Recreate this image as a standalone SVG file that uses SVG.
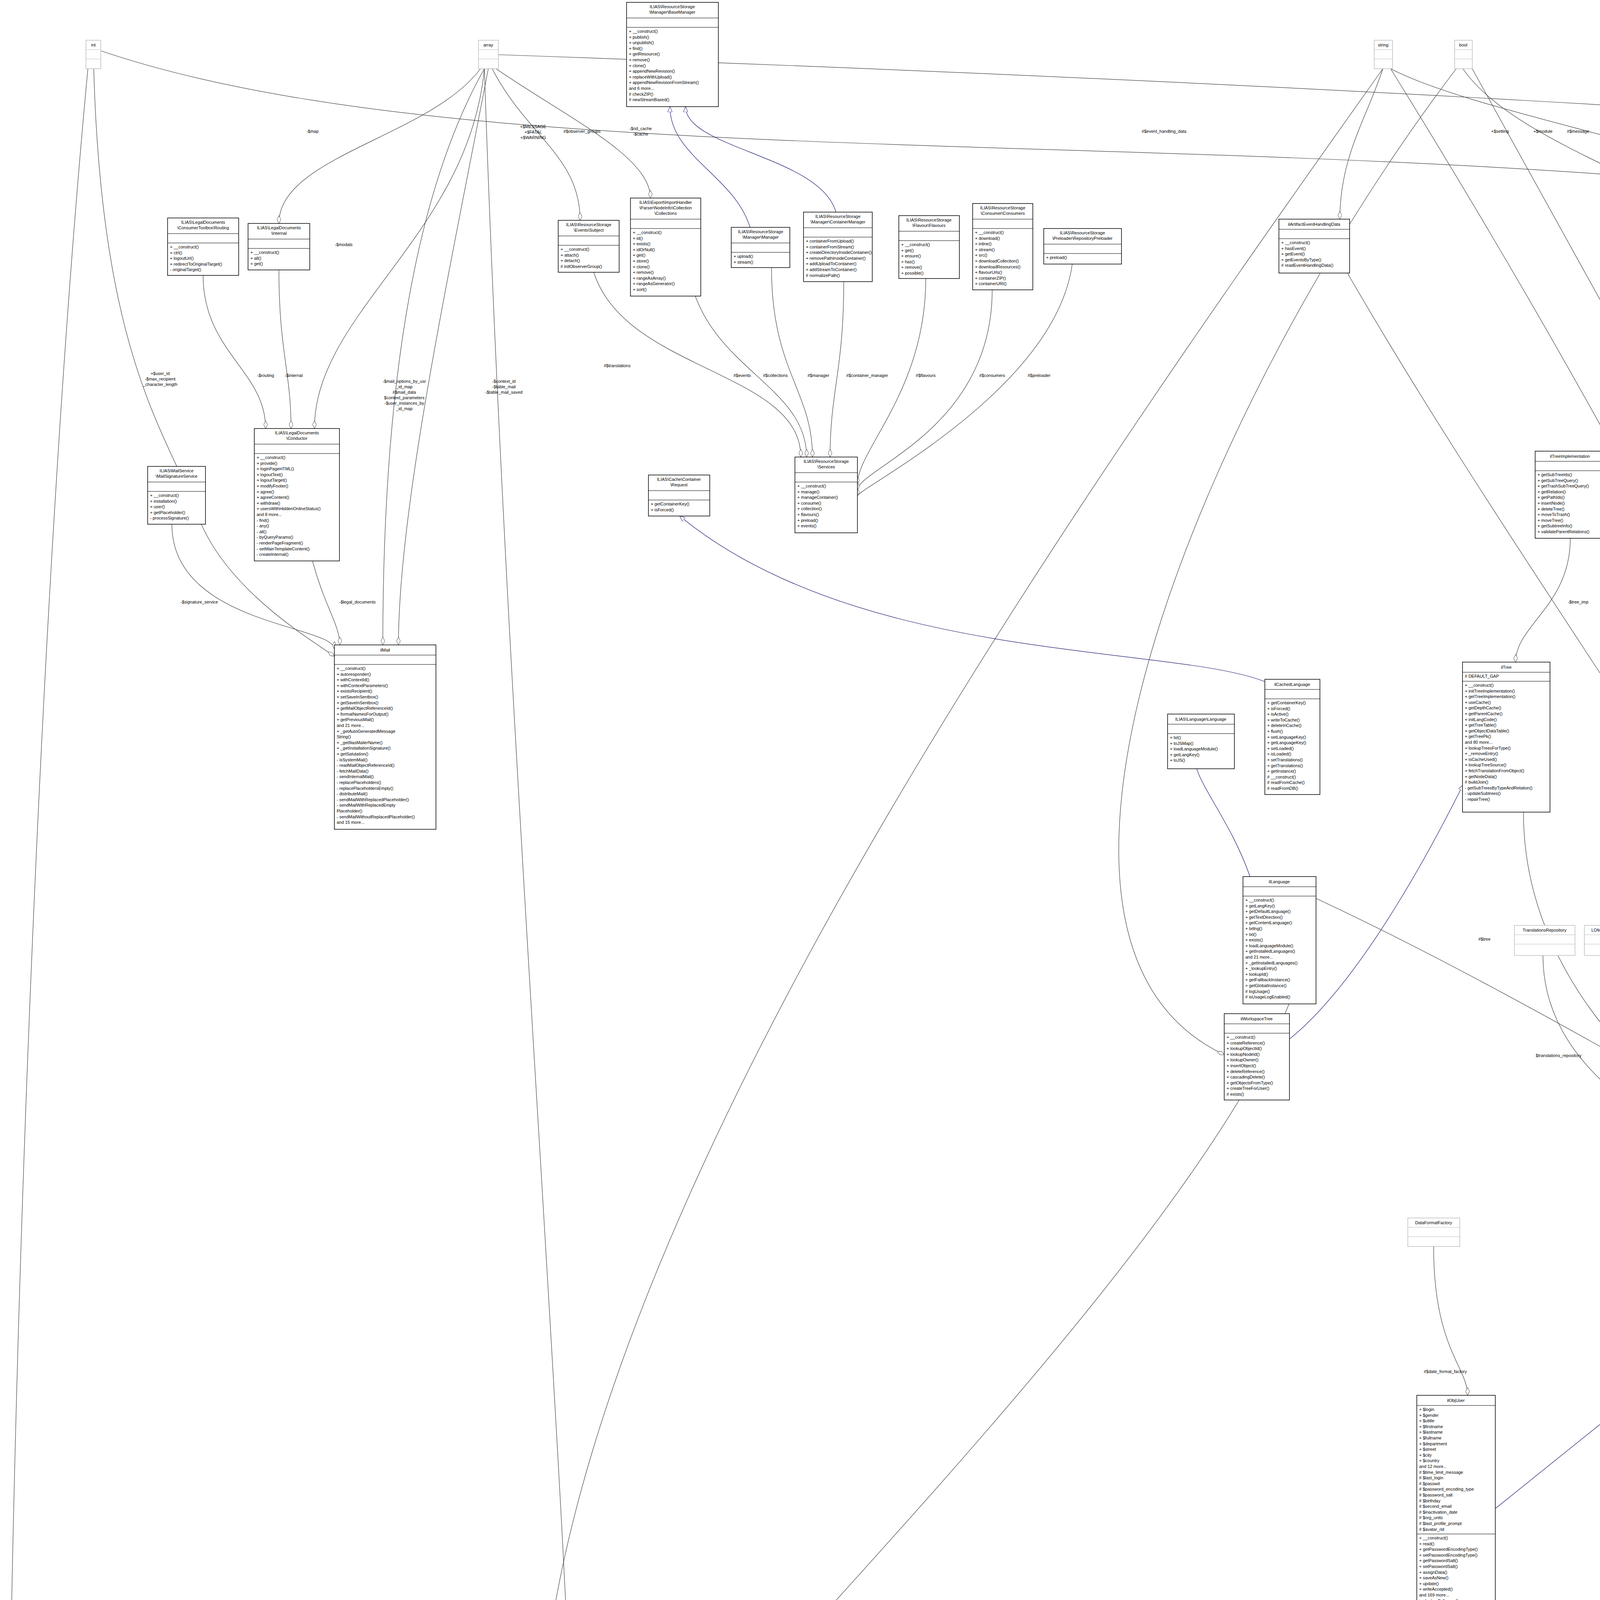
<svg xmlns="http://www.w3.org/2000/svg" width="7594" height="5797" viewBox="0 0 7594 5797">
<style>
.n rect{fill:#fff;stroke:#000;stroke-width:1.5}
.n path{stroke:#000;stroke-width:1.2;fill:none}
.g rect{stroke:#bfbfbf}
.g path{stroke:#bfbfbf}
.f rect{fill:#bfbfbf}
text{font-family:"Liberation Sans",Arial,sans-serif;font-size:11px;fill:#000}
.ti{text-anchor:middle}
.e path{fill:none;stroke:#404040;stroke-width:1.2;marker-end:url(#dm)}
.e path.i{stroke:#191970;marker-end:url(#tr)}
.l text{text-anchor:middle}
</style>
<defs>
<marker id="dm" viewBox="0 0 20 10" refX="20" refY="5" markerWidth="20" markerHeight="10" orient="auto" markerUnits="userSpaceOnUse"><path d="M0,5 L10,0 L20,5 L10,10 Z" fill="#fff" stroke="#404040"/></marker>
<marker id="tr" viewBox="0 0 14 12" refX="14" refY="6" markerWidth="14" markerHeight="12" orient="auto" markerUnits="userSpaceOnUse"><path d="M0,0 L14,6 L0,12 Z" fill="#fff" stroke="#191970"/></marker>
</defs>
<rect width="7594" height="5797" fill="#fff"/>

<g class="e" id="edges">
<path d="M520,705 C520,900 680,950 680,1097"/>
<path d="M714,691 C714,900 745,950 745,1097"/>
<path d="M1240,176 C1200,600 805,800 805,1097"/>
<path d="M1230,176 C1100,350 714,400 714,572"/>
<path d="M1260,176 C1350,350 1485,400 1485,564"/>
<path d="M1270,176 C1450,300 1665,400 1665,507"/>
<path d="M1520,697 C1600,950 2050,950 2050,1170"/>
<path d="M1780,758 C1850,950 2065,1000 2065,1170"/>
<path d="M1975,685 C1975,950 2080,1000 2080,1170"/>
<path d="M2160,721 C2160,950 2125,1000 2125,1170"/>
<path d="M2370,713 C2370,1000 2195,1150 2195,1240"/>
<path d="M2540,742 C2540,1100 2195,1200 2195,1255"/>
<path d="M2745,676 C2700,1000 2195,1250 2195,1270"/>
<path d="M440,1342 C440,1600 856,1600 856,1662"/>
<path d="M800,1436 C830,1550 870,1600 870,1651"/>
<path d="M240,176 C260,900 420,1100 500,1300 C560,1500 800,1640 856,1680"/>
<path d="M1240,176 C1000,600 980,1300 980,1651"/>
<path d="M1250,176 C1150,700 1020,1300 1020,1651"/>
<path d="M225,176 C100,1500 30,3500 20,4800 C10,5400 200,5640 419,5660"/>
<path d="M3540,176 C3500,300 3430,400 3430,561"/>
<path d="M3745,176 C3900,400 4440,500 4440,680"/>
<path d="M3560,176 C3800,300 4470,400 4470,497"/>
<path d="M4745,176 C4745,300 4720,400 4720,476"/>
<path d="M4760,176 C4800,300 4780,400 4780,476"/>
<path d="M4510,766 C4600,1000 4905,1000 4905,1149"/>
<path d="M4700,788 C4800,1000 4940,1000 4940,1149"/>
<path d="M4020,1378 C4020,1550 3880,1600 3880,1695"/>
<path d="M5230,264 C5500,400 6010,350 6010,420"/>
<path d="M6110,852 C6110,1000 6040,1050 6040,1141"/>
<path d="M5380,758 C5380,1000 5320,1100 5320,1215"/>
<path d="M5600,676 C5600,1000 5420,1150 5420,1215"/>
<path d="M6600,758 C6700,1000 7152,1000 7152,1130"/>
<path d="M7370,667 C7370,900 7270,1000 7270,1112"/>
<path d="M6370,176 C6600,400 7235,800 7235,1112"/>
<path d="M6350,176 C6300,350 6390,500 6340,880"/>
<path d="M7000,248 C6900,380 6640,400 6640,507"/>
<path d="M7010,248 C7050,800 6903,1300 6903,1470"/>
<path d="M7030,248 C6900,600 6221,700 6221,760"/>
<path d="M1276,140 C3000,200 5000,300 6003,420"/>
<path d="M258,130 C1200,450 3000,320 4614,490"/>
<path d="M4290,2542 C4290,2700 4490,2750 4490,2844"/>
<path d="M4520,2468 C4520,2700 4520,2750 4520,2844"/>
<path d="M3950,2446 C3950,2800 4400,2950 4477,2990"/>
<path d="M4107,2446 C4107,2800 4400,2980 4477,3010"/>
<path d="M3670,3191 C3670,3450 3757,3500 3757,3572"/>
<path d="M3727,4336 L3727,4401"/>
<path d="M6000,4717 C6000,4850 5600,4900 5569,4950"/>
<path d="M5540,5152 C5560,5200 5620,5245 5654,5250"/>
<path d="M6435,4600 C6435,4750 6420,4850 6420,4922"/>
<path d="M6410,5042 C6380,5250 5950,5350 5852,5355"/>
<path d="M5654,5380 C4500,5450 1500,5650 623,5700"/>
<path d="M3620,4640 C2500,4700 1700,4750 1528,4870"/>
<path d="M4400,1439 C4400,2200 4570,2600 4570,2844"/>
<path d="M4900,1385 C4850,2200 4600,2600 4600,2844"/>
<path d="M5330,1319 C5200,2200 4705,2800 4705,2990"/>
<path d="M6000,1394 C5800,2300 4705,2900 4705,3000"/>
<path d="M3900,2079 C3900,2600 4400,2900 4477,2950"/>
<path d="M3369,2300 C3800,2500 4400,2850 4477,2900"/>
<path d="M4750,788 C5000,1500 4705,2700 4705,2860"/>
<path d="M5200,264 C5300,1500 4705,2700 4705,2850"/>
<path d="M3300,2570 C3000,3300 1600,4600 1528,4830"/>
<path d="M3540,176 C2600,1500 1200,3500 1400,4790"/>
<path d="M1240,176 C1300,2000 1470,4000 1470,4790"/>
<path d="M3450,700 C4200,2000 5500,3500 5400,4812"/>
<path d="M3560,176 C5000,2500 5400,4000 5440,4812"/>
<path d="M6324,150 C5800,1500 5700,4500 5700,5239"/>
<path d="M3728,176 C3100,1000 2500,2400 3134,2700"/>
<path d="M3769,176 C4500,1500 5900,4000 6000,4408"/>
<path d="M4769,176 C5600,1800 6050,4000 6050,4408"/>
<path d="M4972,1300 C6000,2500 5800,3800 5811,3850"/>
<path class="i" d="M1920,582 C1880,450 1715,400 1715,273"/>
<path class="i" d="M2140,543 C2100,400 1755,380 1755,273"/>
<path class="i" d="M3238,1745 C3000,1650 2200,1700 1740,1321"/>
<path class="i" d="M4470,497 C4420,400 4370,300 4370,236"/>
<path class="i" d="M3200,2244 C3150,2100 3060,2000 3060,1947"/>
<path class="i" d="M3301,2660 C3500,2500 3700,2100 3745,2010"/>
<path class="i" d="M5662,3900 L4705,3233"/>
<path class="i" d="M5936,4417 L5790,4107"/>
<path class="i" d="M6438,4526 L6438,3992"/>
<path class="i" d="M623,5625 L1341,5145"/>
<path class="i" d="M3828,3862 L4477,3340"/>
</g>

<g class="l" id="labels">
<text x="680" y="965">-$routing</text>
<text x="752" y="965">-$internal</text>
<text x="880" y="630">-$modals</text>
<text x="800" y="340">-$map</text>
<text x="1490" y="340">#$observer_groups</text>
<text x="1640" y="333">-$rid_cache</text><text x="1640" y="347">-$cache</text>
<text x="1900" y="965">#$events</text>
<text x="1985" y="965">#$collections</text>
<text x="2095" y="965">#$manager</text>
<text x="2220" y="965">#$container_manager</text>
<text x="2370" y="965">#$flavours</text>
<text x="2540" y="965">#$consumers</text>
<text x="2660" y="965">#$preloader</text>
<text x="510" y="1545">-$signature_service</text>
<text x="915" y="1545">-$legal_documents</text>
<text x="410" y="960">+$user_id</text><text x="410" y="974">-$max_recipient</text><text x="410" y="988">_character_length</text>
<text x="1035" y="980">-$mail_options_by_usr</text><text x="1035" y="994">_id_map</text><text x="1035" y="1008">#$mail_data</text><text x="1035" y="1022">$context_parameters</text><text x="1035" y="1036">-$user_instances_by</text><text x="1035" y="1050">_id_map</text>
<text x="1290" y="980">-$context_id</text><text x="1290" y="994">-$table_mail</text><text x="1290" y="1008">-$table_mail_saved</text>
<text x="1365" y="328">+$MESSAGE</text><text x="1365" y="342">+$FATAL</text><text x="1365" y="356">+$WARNING</text>
<text x="1580" y="940">#$translations</text>
<text x="23" y="4745">#$actor</text>
<text x="2980" y="340">#$event_handling_data</text>
<text x="3840" y="340">+$setting</text>
<text x="3950" y="340">+$module</text>
<text x="4040" y="340">#$message</text>
<text x="4180" y="340">#$cache_disabled</text>
<text x="4400" y="333">-$settings_cache</text><text x="4400" y="347">-$value_type</text>
<text x="4570" y="340">#$db</text>
<text x="4690" y="340">#$DEBUG_ENV</text>
<text x="4900" y="340">#$whoops_handlers_registered</text>
<text x="5155" y="340">#$whoops</text>
<text x="4930" y="970">#$setting</text>
<text x="4990" y="970">#$error</text>
<text x="4040" y="1545">-$tree_imp</text>
<text x="5480" y="340">-SENSITIVE_PARAMETER</text><text x="5480" y="354">_NAMES</text>
<text x="5790" y="340">+PLUGIN_BASE_PATH</text>
<text x="5920" y="340">#$db</text>
<text x="6155" y="305">+FILTER_NOT_INTERNAL</text><text x="6155" y="319">+FILTER_ALL_GLOBAL</text><text x="6155" y="333">+FILTER_ALL</text><text x="6155" y="347">+FILTER_INTERNAL</text><text x="6155" y="361">+FILTER_TEMPLATES</text><text x="6155" y="375">+FILTER_ALL_LOCAL</text>
<text x="6390" y="340">#$log</text>
<text x="6480" y="340">+TABLE_NAME</text>
<text x="6820" y="280">#$server_timezone</text><text x="6820" y="294">+$instances</text><text x="6820" y="308">#$current_timezone</text><text x="6820" y="322">#$default_timezone</text><text x="6820" y="336">+$valid_tz</text>
<text x="6760" y="340">+UTC</text>
<text x="6880" y="340">#$log</text>
<text x="6120" y="970">#$rbacreview</text>
<text x="5410" y="970">#$component_repository</text>
<text x="5600" y="970">#$component_factory</text>
<text x="5180" y="900">+TREE_TYPE_NESTED_SET</text><text x="5180" y="914">+RELATION_PARENT</text><text x="5180" y="928">+RELATION_CHILD</text><text x="5180" y="942">+TREE_TYPE_MATERIALIZED</text><text x="5180" y="956">_PATH</text><text x="5180" y="970">#DEFAULT_LANGUAGE</text><text x="5180" y="984">+RELATION_SIBLING</text><text x="5180" y="998">+POS_FIRST_NODE</text><text x="5180" y="1012">+RELATION_EQUALS</text><text x="5180" y="1026">+POS_LAST_NODE</text><text x="5180" y="1040">+RELATION_NONE</text>
<text x="7120" y="965">#$default_timezone</text><text x="7120" y="979">#$timezone</text>
<text x="7330" y="970">#$dt_obj</text>
<text x="7295" y="590">+SECOND</text><text x="7295" y="604">+MONTH</text><text x="7295" y="618">+YEAR</text><text x="7295" y="632">+HOUR</text><text x="7295" y="646">+MINUTE</text><text x="7295" y="660">+WEEK</text><text x="7295" y="674">+DAY</text>
<text x="7020" y="1265">#$log</text>
<text x="6560" y="1555">+TABLE_OBJECT_DATA</text><text x="6560" y="1569">+LONG_DESC_LENGTH</text><text x="6560" y="1583">+TITLE_LENGTH</text><text x="6560" y="1597">+DESC_LENGTH</text>
<text x="4659" y="2183">#$obj_definition</text>
<text x="4815" y="2183">#$ilias</text>
<text x="5190" y="2183">#$app_event_handler</text>
<text x="5390" y="2183">#$rbac_admin</text>
<text x="5800" y="2183">#$db</text>
<text x="3800" y="2408">#$tree</text>
<text x="4441" y="2706">#$object_properties</text>
<text x="4590" y="2706">#$properties_aggregator</text>
<text x="3990" y="2706">$translations_repository</text>
<text x="4240" y="2706">#$lom_services</text>
<text x="5280" y="2408">#$delivery</text>
<text x="5610" y="2408">#$settings</text>
<text x="6245" y="2408">#$db</text>
<text x="6390" y="2408">#$rbacreview</text>
<text x="6680" y="2408">+SUBJECT_TITLE_LENGTH</text>
<text x="6340" y="2706">#$db</text>
<text x="6610" y="2706">$notification_settings</text>
<text x="3700" y="3515">#$date_format_factory</text>
<text x="3770" y="4372">#$user</text>
<text x="3590" y="4530">#$user</text>
<text x="5960" y="4762">#$obj</text>
<text x="5605" y="5208">#$table</text>
<text x="6470" y="4758">#$DIC</text>
<text x="6360" y="5208">#$notes</text>
<text x="2690" y="5580">#$record</text>
<text x="1640" y="4757">#$wsp_access_handler</text>
<text x="1000" y="4765">#$mail</text>
</g>

<g id="n_int" class="n g"><rect x="220" y="103" width="38" height="73"/><path d="M220,127H258M220,151H258"/><text class="ti" x="239" y="119">int</text></g>
<g id="n_array" class="n g"><rect x="1225" y="103" width="51" height="73"/><path d="M1225,127H1276M1225,151H1276"/><text class="ti" x="1250" y="119">array</text></g>
<g id="n_string" class="n g"><rect x="3518" y="103" width="47" height="73"/><path d="M3518,127H3565M3518,151H3565"/><text class="ti" x="3541" y="119">string</text></g>
<g id="n_bool" class="n g"><rect x="3724" y="103" width="45" height="73"/><path d="M3724,127H3769M3724,151H3769"/><text class="ti" x="3746" y="119">bool</text></g>
<g id="n_static" class="n g"><rect x="4720" y="103" width="49" height="73"/><path d="M4720,127H4769M4720,151H4769"/><text class="ti" x="4744" y="119">static</text></g>
<g id="n_run" class="n g"><rect x="4913" y="103" width="96" height="73"/><path d="M4913,127H5009M4913,151H5009"/><text class="ti" x="4961" y="119">RunInterface</text></g>
<g id="n_const" class="n g"><rect x="6324" y="103" width="57" height="73"/><path d="M6324,127H6381M6324,151H6381"/><text class="ti" x="6352" y="119">const</text></g>
<g id="n_datetime" class="n g"><rect x="7334" y="594" width="76" height="73"/><path d="M7334,618H7410M7334,642H7410"/><text class="ti" x="7372" y="610">DateTime</text></g>
<g id="n_dff" class="n g"><rect x="3604" y="3118" width="133" height="73"/><path d="M3604,3142H3737M3604,3166H3737"/><text class="ti" x="3670" y="3134">DataFormatFactory</text></g>
<g id="n_tr" class="n g"><rect x="3877" y="2369" width="155" height="77"/><path d="M3877,2393H4032M3877,2417H4032"/><text class="ti" x="3954" y="2385">TranslationsRepository</text></g>
<g id="n_lom" class="n g"><rect x="4056" y="2369" width="102" height="77"/><path d="M4056,2393H4158M4056,2417H4158"/><text class="ti" x="4107" y="2385">LOMServices</text></g>

<g id="n_basemanager" class="n"><rect x="1604" y="6" width="235" height="267"/><path d="M1604,46H1839M1604,70H1839"/><text class="ti" x="1721" y="21">ILIAS\ResourceStorage</text><text class="ti" x="1721" y="35">\Manager\BaseManager</text><text x="1610" y="84"><tspan x="1610" dy="0">+ __construct()</tspan><tspan x="1610" dy="14.6">+ publish()</tspan><tspan x="1610" dy="14.6">+ unpublish()</tspan><tspan x="1610" dy="14.6">+ find()</tspan><tspan x="1610" dy="14.6">+ getResource()</tspan><tspan x="1610" dy="14.6">+ remove()</tspan><tspan x="1610" dy="14.6">+ clone()</tspan><tspan x="1610" dy="14.6">+ appendNewRevision()</tspan><tspan x="1610" dy="14.6">+ replaceWithUpload()</tspan><tspan x="1610" dy="14.6">+ appendNewRevisionFromStream()</tspan><tspan x="1610" dy="14.6">and 6 more...</tspan><tspan x="1610" dy="14.6"># checkZIP()</tspan><tspan x="1610" dy="14.6"># newStreamBased()</tspan></text></g>

<g id="n_routing" class="n"><rect x="429" y="558" width="182" height="147"/><path d="M429,598H611M429,622H611"/><text class="ti" x="520" y="573">ILIAS\LegalDocuments</text><text class="ti" x="520" y="587">\ConsumerToolbox\Routing</text><text x="435" y="636"><tspan x="435" dy="0">+ __construct()</tspan><tspan x="435" dy="14.6">+ ctrl()</tspan><tspan x="435" dy="14.6">+ logoutUrl()</tspan><tspan x="435" dy="14.6">+ redirectToOriginalTarget()</tspan><tspan x="435" dy="14.6">- originalTarget()</tspan></text></g>

<g id="n_internal" class="n"><rect x="635" y="572" width="158" height="119"/><path d="M635,612H793M635,636H793"/><text class="ti" x="714" y="587">ILIAS\LegalDocuments</text><text class="ti" x="714" y="601">\Internal</text><text x="641" y="650"><tspan x="641" dy="0">+ __construct()</tspan><tspan x="641" dy="14.6">+ all()</tspan><tspan x="641" dy="14.6">+ get()</tspan></text></g>

<g id="n_subject" class="n"><rect x="1429" y="564" width="156" height="133"/><path d="M1429,604H1585M1429,628H1585"/><text class="ti" x="1507" y="579">ILIAS\ResourceStorage</text><text class="ti" x="1507" y="593">\Events\Subject</text><text x="1435" y="642"><tspan x="1435" dy="0">+ __construct()</tspan><tspan x="1435" dy="14.6">+ attach()</tspan><tspan x="1435" dy="14.6">+ detach()</tspan><tspan x="1435" dy="14.6"># initObserverGroup()</tspan></text></g>

<g id="n_collections" class="n"><rect x="1614" y="507" width="180" height="251"/><path d="M1614,561H1794M1614,585H1794"/><text class="ti" x="1704" y="522">ILIAS\Export\ImportHandler</text><text class="ti" x="1704" y="536">\Parser\NodeInfo\Collection</text><text class="ti" x="1704" y="550">\Collections</text><text x="1620" y="599"><tspan x="1620" dy="0">+ __construct()</tspan><tspan x="1620" dy="14.6">+ id()</tspan><tspan x="1620" dy="14.6">+ exists()</tspan><tspan x="1620" dy="14.6">+ idOrNull()</tspan><tspan x="1620" dy="14.6">+ get()</tspan><tspan x="1620" dy="14.6">+ store()</tspan><tspan x="1620" dy="14.6">+ clone()</tspan><tspan x="1620" dy="14.6">+ remove()</tspan><tspan x="1620" dy="14.6">+ rangeAsArray()</tspan><tspan x="1620" dy="14.6">+ rangeAsGenerator()</tspan><tspan x="1620" dy="14.6">+ sort()</tspan></text></g>

<g id="n_manager" class="n"><rect x="1872" y="582" width="150" height="103"/><path d="M1872,622H2022M1872,646H2022"/><text class="ti" x="1947" y="597">ILIAS\ResourceStorage</text><text class="ti" x="1947" y="611">\Manager\Manager</text><text x="1878" y="660"><tspan x="1878" dy="0">+ upload()</tspan><tspan x="1878" dy="14.6">+ stream()</tspan></text></g>

<g id="n_containermanager" class="n"><rect x="2057" y="543" width="176" height="178"/><path d="M2057,583H2233M2057,607H2233"/><text class="ti" x="2145" y="558">ILIAS\ResourceStorage</text><text class="ti" x="2145" y="572">\Manager\ContainerManager</text><text x="2063" y="621"><tspan x="2063" dy="0">+ containerFromUpload()</tspan><tspan x="2063" dy="14.6">+ containerFromStream()</tspan><tspan x="2063" dy="14.6">+ createDirectoryInsideContainer()</tspan><tspan x="2063" dy="14.6">+ removePathInsideContainer()</tspan><tspan x="2063" dy="14.6">+ addUploadToContainer()</tspan><tspan x="2063" dy="14.6">+ addStreamToContainer()</tspan><tspan x="2063" dy="14.6"># normalizePath()</tspan></text></g>

<g id="n_flavours" class="n"><rect x="2301" y="552" width="155" height="161"/><path d="M2301,592H2456M2301,616H2456"/><text class="ti" x="2378" y="567">ILIAS\ResourceStorage</text><text class="ti" x="2378" y="581">\Flavour\Flavours</text><text x="2307" y="630"><tspan x="2307" dy="0">+ __construct()</tspan><tspan x="2307" dy="14.6">+ get()</tspan><tspan x="2307" dy="14.6">+ ensure()</tspan><tspan x="2307" dy="14.6">+ has()</tspan><tspan x="2307" dy="14.6">+ remove()</tspan><tspan x="2307" dy="14.6">+ possible()</tspan></text></g>

<g id="n_consumers" class="n"><rect x="2490" y="521" width="154" height="221"/><path d="M2490,561H2644M2490,585H2644"/><text class="ti" x="2567" y="536">ILIAS\ResourceStorage</text><text class="ti" x="2567" y="550">\Consumer\Consumers</text><text x="2496" y="599"><tspan x="2496" dy="0">+ __construct()</tspan><tspan x="2496" dy="14.6">+ download()</tspan><tspan x="2496" dy="14.6">+ inline()</tspan><tspan x="2496" dy="14.6">+ stream()</tspan><tspan x="2496" dy="14.6">+ src()</tspan><tspan x="2496" dy="14.6">+ downloadCollection()</tspan><tspan x="2496" dy="14.6">+ downloadResources()</tspan><tspan x="2496" dy="14.6">+ flavourUrls()</tspan><tspan x="2496" dy="14.6">+ containerZIP()</tspan><tspan x="2496" dy="14.6">+ containerURI()</tspan></text></g>

<g id="n_preloader" class="n"><rect x="2672" y="585" width="199" height="91"/><path d="M2672,625H2871M2672,649H2871"/><text class="ti" x="2771" y="600">ILIAS\ResourceStorage</text><text class="ti" x="2771" y="614">\Preloader\RepositoryPreloader</text><text x="2678" y="663">+ preload()</text></g>

<g id="n_conductor" class="n"><rect x="651" y="1097" width="218" height="339"/><path d="M651,1137H869M651,1161H869"/><text class="ti" x="760" y="1112">ILIAS\LegalDocuments</text><text class="ti" x="760" y="1126">\Conductor</text><text x="657" y="1175"><tspan x="657" dy="0">+ __construct()</tspan><tspan x="657" dy="14.6">+ provide()</tspan><tspan x="657" dy="14.6">+ loginPageHTML()</tspan><tspan x="657" dy="14.6">+ logoutText()</tspan><tspan x="657" dy="14.6">+ logoutTarget()</tspan><tspan x="657" dy="14.6">+ modifyFooter()</tspan><tspan x="657" dy="14.6">+ agree()</tspan><tspan x="657" dy="14.6">+ agreeContent()</tspan><tspan x="657" dy="14.6">+ withdraw()</tspan><tspan x="657" dy="14.6">+ usersWithHiddenOnlineStatus()</tspan><tspan x="657" dy="14.6">and 8 more...</tspan><tspan x="657" dy="14.6">- find()</tspan><tspan x="657" dy="14.6">- any()</tspan><tspan x="657" dy="14.6">- all()</tspan><tspan x="657" dy="14.6">- byQueryParams()</tspan><tspan x="657" dy="14.6">- renderPageFragment()</tspan><tspan x="657" dy="14.6">- setMainTemplateContent()</tspan><tspan x="657" dy="14.6">- createInternal()</tspan></text></g>

<g id="n_mailsig" class="n"><rect x="378" y="1194" width="148" height="148"/><path d="M378,1234H526M378,1258H526"/><text class="ti" x="452" y="1209">ILIAS\MailService</text><text class="ti" x="452" y="1223">\MailSignatureService</text><text x="384" y="1272"><tspan x="384" dy="0">+ __construct()</tspan><tspan x="384" dy="14.6">+ installation()</tspan><tspan x="384" dy="14.6">+ user()</tspan><tspan x="384" dy="14.6">+ getPlaceholder()</tspan><tspan x="384" dy="14.6">- processSignature()</tspan></text></g>

<g id="n_services" class="n"><rect x="2035" y="1170" width="160" height="194"/><path d="M2035,1210H2195M2035,1234H2195"/><text class="ti" x="2115" y="1185">ILIAS\ResourceStorage</text><text class="ti" x="2115" y="1199">\Services</text><text x="2041" y="1248"><tspan x="2041" dy="0">+ __construct()</tspan><tspan x="2041" dy="14.6">+ manage()</tspan><tspan x="2041" dy="14.6">+ manageContainer()</tspan><tspan x="2041" dy="14.6">+ consume()</tspan><tspan x="2041" dy="14.6">+ collection()</tspan><tspan x="2041" dy="14.6">+ flavours()</tspan><tspan x="2041" dy="14.6">+ preload()</tspan><tspan x="2041" dy="14.6">+ events()</tspan></text></g>

<g id="n_request" class="n"><rect x="1660" y="1216" width="157" height="105"/><path d="M1660,1256H1817M1660,1280H1817"/><text class="ti" x="1738" y="1231">ILIAS\Cache\Container</text><text class="ti" x="1738" y="1245">\Request</text><text x="1666" y="1294"><tspan x="1666" dy="0">+ getContainerKey()</tspan><tspan x="1666" dy="14.6">+ isForced()</tspan></text></g>

<g id="n_ilmail" class="n"><rect x="856" y="1651" width="260" height="472"/><path d="M856,1677H1116M856,1701H1116"/><text class="ti" x="986" y="1668">ilMail</text><text x="862" y="1715"><tspan x="862" dy="0">+ __construct()</tspan><tspan x="862" dy="14.6">+ autoresponder()</tspan><tspan x="862" dy="14.6">+ withContextId()</tspan><tspan x="862" dy="14.6">+ withContextParameters()</tspan><tspan x="862" dy="14.6">+ existsRecipient()</tspan><tspan x="862" dy="14.6">+ setSaveInSentbox()</tspan><tspan x="862" dy="14.6">+ getSaveInSentbox()</tspan><tspan x="862" dy="14.6">+ getMailObjectReferenceId()</tspan><tspan x="862" dy="14.6">+ formatNamesForOutput()</tspan><tspan x="862" dy="14.6">+ getPreviousMail()</tspan><tspan x="862" dy="14.6">and 21 more...</tspan><tspan x="862" dy="14.6">+ _getAutoGeneratedMessage</tspan><tspan x="862" dy="14.6">String()</tspan><tspan x="862" dy="14.6">+ _getIliasMailerName()</tspan><tspan x="862" dy="14.6">+ _getInstallationSignature()</tspan><tspan x="862" dy="14.6">+ getSalutation()</tspan><tspan x="862" dy="14.6">- isSystemMail()</tspan><tspan x="862" dy="14.6">- readMailObjectReferenceId()</tspan><tspan x="862" dy="14.6">- fetchMailData()</tspan><tspan x="862" dy="14.6">- sendInternalMail()</tspan><tspan x="862" dy="14.6">- replacePlaceholders()</tspan><tspan x="862" dy="14.6">- replacePlaceholdersEmpty()</tspan><tspan x="862" dy="14.6">- distributeMail()</tspan><tspan x="862" dy="14.6">- sendMailWithReplacedPlaceholder()</tspan><tspan x="862" dy="14.6">- sendMailWithReplacedEmpty</tspan><tspan x="862" dy="14.6">Placeholder()</tspan><tspan x="862" dy="14.6">- sendMailWithoutReplacedPlaceholder()</tspan><tspan x="862" dy="14.6">and 15 more...</tspan></text></g>

<g id="n_artifact" class="n"><rect x="3274" y="561" width="181" height="138"/><path d="M3274,587H3455M3274,611H3455"/><text class="ti" x="3364" y="578">ilArtifactEventHandlingData</text><text x="3280" y="625"><tspan x="3280" dy="0">+ __construct()</tspan><tspan x="3280" dy="14.6">+ hasEvent()</tspan><tspan x="3280" dy="14.6">+ getEvent()</tspan><tspan x="3280" dy="14.6">+ getEventsByType()</tspan><tspan x="3280" dy="14.6"># readEventHandlingData()</tspan></text></g>

<g id="n_adminsetting" class="n"><rect x="4301" y="42" width="141" height="194"/><path d="M4301,82H4442M4301,106H4442"/><text class="ti" x="4371" y="57">ILIAS\Administration</text><text class="ti" x="4371" y="71">\Setting</text><text x="4307" y="120"><tspan x="4307" dy="0">+ getModule()</tspan><tspan x="4307" dy="14.6">+ read()</tspan><tspan x="4307" dy="14.6">+ get()</tspan><tspan x="4307" dy="14.6">+ deleteAll()</tspan><tspan x="4307" dy="14.6">+ delete()</tspan><tspan x="4307" dy="14.6">+ getAll()</tspan><tspan x="4307" dy="14.6">+ set()</tspan><tspan x="4307" dy="14.6">+ _lookupValue()</tspan></text></g>

<g id="n_ilsetting" class="n"><rect x="4434" y="497" width="156" height="269"/><path d="M4434,523H4590M4434,547H4590"/><text class="ti" x="4512" y="514">ilSetting</text><text x="4440" y="561"><tspan x="4440" dy="0">+ __construct()</tspan><tspan x="4440" dy="14.6">+ getModule()</tspan><tspan x="4440" dy="14.6">+ read()</tspan><tspan x="4440" dy="14.6">+ get()</tspan><tspan x="4440" dy="14.6">+ deleteAll()</tspan><tspan x="4440" dy="14.6">+ deleteLike()</tspan><tspan x="4440" dy="14.6">+ delete()</tspan><tspan x="4440" dy="14.6">+ getAll()</tspan><tspan x="4440" dy="14.6">+ set()</tspan><tspan x="4440" dy="14.6">+ setScormDebug()</tspan><tspan x="4440" dy="14.6">+ _lookupValue()</tspan><tspan x="4440" dy="14.6">+ _getValueType()</tspan><tspan x="4440" dy="14.6">+ _changeValueType()</tspan><tspan x="4440" dy="14.6">+ _getLongerSettings()</tspan></text></g>

<g id="n_errorhandling" class="n"><rect x="4614" y="476" width="204" height="312"/><path d="M4614,502H4818M4614,526H4818"/><text class="ti" x="4716" y="493">ilErrorHandling</text><text x="4620" y="540"><tspan x="4620" dy="0">+ __construct()</tspan><tspan x="4620" dy="14.6">+ getHandler()</tspan><tspan x="4620" dy="14.6">+ raiseError()</tspan><tspan x="4620" dy="14.6">+ getMessage()</tspan><tspan x="4620" dy="14.6">+ setMessage()</tspan><tspan x="4620" dy="14.6">+ appendMessage()</tspan><tspan x="4620" dy="14.6">+ handlePreWhoops()</tspan><tspan x="4620" dy="14.6"># initWhoopsHandlers()</tspan><tspan x="4620" dy="14.6"># getIlRuntime()</tspan><tspan x="4620" dy="14.6"># getWhoops()</tspan><tspan x="4620" dy="14.6"># isDevmodeActive()</tspan><tspan x="4620" dy="14.6"># defaultHandler()</tspan><tspan x="4620" dy="14.6"># devmodeHandler()</tspan><tspan x="4620" dy="14.6"># addEditorSupport()</tspan><tspan x="4620" dy="14.6"># applyEditorPathTranslations()</tspan><tspan x="4620" dy="14.6"># parseEditorPathTranslation()</tspan><tspan x="4620" dy="14.6">- errorHandler()</tspan></text></g>

<g id="n_objdef" class="n"><rect x="4284" y="1097" width="219" height="342"/><path d="M4284,1123H4503M4284,1147H4503"/><text class="ti" x="4393" y="1114">ilObjectDefinition</text><text x="4290" y="1161"><tspan x="4290" dy="0">+ __construct()</tspan><tspan x="4290" dy="14.6">+ readDefinitionData()</tspan><tspan x="4290" dy="14.6">+ getClassName()</tspan><tspan x="4290" dy="14.6">+ getLocation()</tspan><tspan x="4290" dy="14.6">+ getGroup()</tspan><tspan x="4290" dy="14.6">+ getGroupOfObj()</tspan><tspan x="4290" dy="14.6">+ hasCheckbox()</tspan><tspan x="4290" dy="14.6">+ getTranslationType()</tspan><tspan x="4290" dy="14.6">+ stopInheritance()</tspan><tspan x="4290" dy="14.6">+ getDevMode()</tspan><tspan x="4290" dy="14.6">and 38 more...</tspan><tspan x="4290" dy="14.6">+ getRepositoryObjectTypes</tspan><tspan x="4290" dy="14.6">ForComponent()</tspan><tspan x="4290" dy="14.6">+ getComponentForType()</tspan><tspan x="4290" dy="14.6">+ getGroupedRepositoryObject</tspan><tspan x="4290" dy="14.6">Types()</tspan><tspan x="4290" dy="14.6"># readPluginData()</tspan><tspan x="4290" dy="14.6"># parsePluginData()</tspan><tspan x="4290" dy="14.6"># getGroupedPluginObjectTypes()</tspan></text></g>

<g id="n_treeimpl" class="n"><rect x="3930" y="1155" width="179" height="223"/><path d="M3930,1181H4109M3930,1205H4109"/><text class="ti" x="4019" y="1172">ilTreeImplementation</text><text x="3936" y="1219"><tspan x="3936" dy="0">+ getSubTreeIds()</tspan><tspan x="3936" dy="14.6">+ getSubTreeQuery()</tspan><tspan x="3936" dy="14.6">+ getTrashSubTreeQuery()</tspan><tspan x="3936" dy="14.6">+ getRelation()</tspan><tspan x="3936" dy="14.6">+ getPathIds()</tspan><tspan x="3936" dy="14.6">+ insertNode()</tspan><tspan x="3936" dy="14.6">+ deleteTree()</tspan><tspan x="3936" dy="14.6">+ moveToTrash()</tspan><tspan x="3936" dy="14.6">+ moveTree()</tspan><tspan x="3936" dy="14.6">+ getSubtreeInfo()</tspan><tspan x="3936" dy="14.6">+ validateParentRelations()</tspan></text></g>

<g id="n_ilias" class="n"><rect x="4833" y="1149" width="138" height="236"/><path d="M4833,1175H4971M4833,1256H4971"/><text class="ti" x="4902" y="1166">ILIAS</text><text x="4839" y="1189"><tspan x="4839" dy="0">+ $account</tspan><tspan x="4839" dy="14.6">+ $ini</tspan><tspan x="4839" dy="14.6">+ $ini_ilias</tspan><tspan x="4839" dy="14.6">+ $db</tspan><tspan x="4839" dy="14.6">+ $error_obj</tspan></text><text x="4839" y="1270"><tspan x="4839" dy="0">+ __construct()</tspan><tspan x="4839" dy="14.6">+ getSetting()</tspan><tspan x="4839" dy="14.6">+ deleteSetting()</tspan><tspan x="4839" dy="14.6">+ getAllSettings()</tspan><tspan x="4839" dy="14.6">+ setSetting()</tspan><tspan x="4839" dy="14.6">+ getClientId()</tspan><tspan x="4839" dy="14.6">+ raiseError()</tspan><tspan x="4839" dy="14.6"># getSettingObject()</tspan></text></g>

<g id="n_iltree" class="n"><rect x="3744" y="1695" width="224" height="384"/><path d="M3744,1721H3968M3744,1744H3968"/><text class="ti" x="3856" y="1712">ilTree</text><text x="3750" y="1735"># DEFAULT_GAP</text><text x="3750" y="1758"><tspan x="3750" dy="0">+ __construct()</tspan><tspan x="3750" dy="14.6">+ initTreeImplementation()</tspan><tspan x="3750" dy="14.6">+ getTreeImplementation()</tspan><tspan x="3750" dy="14.6">+ useCache()</tspan><tspan x="3750" dy="14.6">+ getDepthCache()</tspan><tspan x="3750" dy="14.6">+ getParentCache()</tspan><tspan x="3750" dy="14.6">+ initLangCode()</tspan><tspan x="3750" dy="14.6">+ getTreeTable()</tspan><tspan x="3750" dy="14.6">+ getObjectDataTable()</tspan><tspan x="3750" dy="14.6">+ getTreePk()</tspan><tspan x="3750" dy="14.6">and 80 more...</tspan><tspan x="3750" dy="14.6">+ lookupTreesForType()</tspan><tspan x="3750" dy="14.6">+ _removeEntry()</tspan><tspan x="3750" dy="14.6">+ isCacheUsed()</tspan><tspan x="3750" dy="14.6">+ lookupTreeSource()</tspan><tspan x="3750" dy="14.6">+ fetchTranslationFromObject()</tspan><tspan x="3750" dy="14.6">+ getNodeData()</tspan><tspan x="3750" dy="14.6"># buildJoin()</tspan><tspan x="3750" dy="14.6">- getSubTreesByTypeAndRelation()</tspan><tspan x="3750" dy="14.6">- updateSubtrees()</tspan><tspan x="3750" dy="14.6">- repairTree()</tspan></text></g>

<g id="n_cachedlang" class="n"><rect x="3238" y="1739" width="141" height="295"/><path d="M3238,1765H3379M3238,1789H3379"/><text class="ti" x="3308" y="1756">ilCachedLanguage</text><text x="3244" y="1803"><tspan x="3244" dy="0">+ getContainerKey()</tspan><tspan x="3244" dy="14.6">+ isForced()</tspan><tspan x="3244" dy="14.6">+ isActive()</tspan><tspan x="3244" dy="14.6">+ writeToCache()</tspan><tspan x="3244" dy="14.6">+ deleteInCache()</tspan><tspan x="3244" dy="14.6">+ flush()</tspan><tspan x="3244" dy="14.6">+ setLanguageKey()</tspan><tspan x="3244" dy="14.6">+ getLanguageKey()</tspan><tspan x="3244" dy="14.6">+ setLoaded()</tspan><tspan x="3244" dy="14.6">+ isLoaded()</tspan><tspan x="3244" dy="14.6">+ setTranslations()</tspan><tspan x="3244" dy="14.6">+ getTranslations()</tspan><tspan x="3244" dy="14.6">+ getInstance()</tspan><tspan x="3244" dy="14.6"># __construct()</tspan><tspan x="3244" dy="14.6"># readFromCache()</tspan><tspan x="3244" dy="14.6"># readFromDB()</tspan></text></g>

<g id="n_language" class="n"><rect x="2989" y="1828" width="171" height="140"/><path d="M2989,1854H3160M2989,1878H3160"/><text class="ti" x="3074" y="1845">ILIAS\Language\Language</text><text x="2995" y="1892"><tspan x="2995" dy="0">+ txt()</tspan><tspan x="2995" dy="14.6">+ toJSMap()</tspan><tspan x="2995" dy="14.6">+ loadLanguageModule()</tspan><tspan x="2995" dy="14.6">+ getLangKey()</tspan><tspan x="2995" dy="14.6">+ toJS()</tspan></text></g>

<g id="n_illanguage" class="n"><rect x="3182" y="2244" width="187" height="326"/><path d="M3182,2270H3369M3182,2294H3369"/><text class="ti" x="3275" y="2261">ilLanguage</text><text x="3188" y="2308"><tspan x="3188" dy="0">+ __construct()</tspan><tspan x="3188" dy="14.6">+ getLangKey()</tspan><tspan x="3188" dy="14.6">+ getDefaultLanguage()</tspan><tspan x="3188" dy="14.6">+ getTextDirection()</tspan><tspan x="3188" dy="14.6">+ getContentLanguage()</tspan><tspan x="3188" dy="14.6">+ txtlng()</tspan><tspan x="3188" dy="14.6">+ txt()</tspan><tspan x="3188" dy="14.6">+ exists()</tspan><tspan x="3188" dy="14.6">+ loadLanguageModule()</tspan><tspan x="3188" dy="14.6">+ getInstalledLanguages()</tspan><tspan x="3188" dy="14.6">and 21 more...</tspan><tspan x="3188" dy="14.6">+ _getInstalledLanguages()</tspan><tspan x="3188" dy="14.6">+ _lookupEntry()</tspan><tspan x="3188" dy="14.6">+ lookupId()</tspan><tspan x="3188" dy="14.6">+ getFallbackInstance()</tspan><tspan x="3188" dy="14.6">+ getGlobalInstance()</tspan><tspan x="3188" dy="14.6"># logUsage()</tspan><tspan x="3188" dy="14.6"># isUsageLogEnabled()</tspan></text></g>

<g id="n_wstree" class="n"><rect x="3134" y="2595" width="167" height="221"/><path d="M3134,2621H3301M3134,2645H3301"/><text class="ti" x="3217" y="2612">ilWorkspaceTree</text><text x="3140" y="2659"><tspan x="3140" dy="0">+ __construct()</tspan><tspan x="3140" dy="14.6">+ createReference()</tspan><tspan x="3140" dy="14.6">+ lookupObjectId()</tspan><tspan x="3140" dy="14.6">+ lookupNodeId()</tspan><tspan x="3140" dy="14.6">+ lookupOwner()</tspan><tspan x="3140" dy="14.6">+ insertObject()</tspan><tspan x="3140" dy="14.6">+ deleteReference()</tspan><tspan x="3140" dy="14.6">+ cascadingDelete()</tspan><tspan x="3140" dy="14.6">+ getObjectsFromType()</tspan><tspan x="3140" dy="14.6">+ createTreeForUser()</tspan><tspan x="3140" dy="14.6"># exists()</tspan></text></g>

<g id="n_objprops" class="n"><rect x="4182" y="2274" width="235" height="268"/><path d="M4182,2314H4417M4182,2338H4417"/><text class="ti" x="4299" y="2289">ILIAS\ILIASObject\Properties</text><text class="ti" x="4299" y="2303">\ObjectProperties</text><text x="4188" y="2352"><tspan x="4188" dy="0">+ __construct()</tspan><tspan x="4188" dy="14.6">+ storeCoreProperties()</tspan><tspan x="4188" dy="14.6">+ getOwner()</tspan><tspan x="4188" dy="14.6">+ withOwner()</tspan><tspan x="4188" dy="14.6">+ getImportId()</tspan><tspan x="4188" dy="14.6">+ withImportId()</tspan><tspan x="4188" dy="14.6">+ getPropertyTitleAndDescription()</tspan><tspan x="4188" dy="14.6">+ withPropertyTitleAndDescription()</tspan><tspan x="4188" dy="14.6">+ storePropertyTitleAndDescription()</tspan><tspan x="4188" dy="14.6">+ getPropertyIsOnline()</tspan><tspan x="4188" dy="14.6">and 18 more...</tspan><tspan x="4188" dy="14.6">- updateMetadataForTitleAnd</tspan><tspan x="4188" dy="14.6">Description()</tspan></text></g>

<g id="n_aggregator" class="n"><rect x="4444" y="2346" width="191" height="122"/><path d="M4444,2386H4635M4444,2410H4635"/><text class="ti" x="4539" y="2361">ILIAS\ILIASObject\Properties</text><text class="ti" x="4539" y="2375">\Aggregator</text><text x="4450" y="2424"><tspan x="4450" dy="0">+ __construct()</tspan><tspan x="4450" dy="14.6">+ getFor()</tspan><tspan x="4450" dy="14.6">+ preload()</tspan></text></g>

<g id="n_ilobject" class="n"><rect x="4477" y="2844" width="228" height="626"/><path d="M4477,2870H4705M4477,2894H4705"/><text class="ti" x="4591" y="2861">ilObject</text><text x="4483" y="2908"><tspan x="4483" dy="0">+ getObjectProperties()</tspan><tspan x="4483" dy="14.6">+ flushObjectProperties()</tspan><tspan x="4483" dy="14.6">+ withReferences()</tspan><tspan x="4483" dy="14.6">+ processAutoRating()</tspan><tspan x="4483" dy="14.6">+ read()</tspan><tspan x="4483" dy="14.6">+ getId()</tspan><tspan x="4483" dy="14.6">+ setId()</tspan><tspan x="4483" dy="14.6">+ setRefId()</tspan><tspan x="4483" dy="14.6">+ getRefId()</tspan><tspan x="4483" dy="14.6">+ getType()</tspan><tspan x="4483" dy="14.6">and 170 more...</tspan><tspan x="4483" dy="14.6">+ _lookupObjIdByImportId()</tspan><tspan x="4483" dy="14.6">+ _lookupImportId()</tspan><tspan x="4483" dy="14.6">+ _lookupOwnerName()</tspan><tspan x="4483" dy="14.6">+ _checkIfObjectExists()</tspan><tspan x="4483" dy="14.6">+ _getAllReferences()</tspan><tspan x="4483" dy="14.6">+ _lookupTitle()</tspan><tspan x="4483" dy="14.6">+ _lookupOfflineStatus()</tspan><tspan x="4483" dy="14.6">+ _lookupOwner()</tspan><tspan x="4483" dy="14.6">+ _getIdsForTitle()</tspan><tspan x="4483" dy="14.6">+ _lookupDescription()</tspan><tspan x="4483" dy="14.6">and 37 more...</tspan><tspan x="4483" dy="14.6"># doMDUpdateListener()</tspan><tspan x="4483" dy="14.6"># beforeMDUpdateListener()</tspan><tspan x="4483" dy="14.6"># doCreateMetaData()</tspan><tspan x="4483" dy="14.6"># beforeCreateMetaData()</tspan><tspan x="4483" dy="14.6"># doUpdateMetaData()</tspan><tspan x="4483" dy="14.6"># beforeUpdateMetaData()</tspan><tspan x="4483" dy="14.6"># doDeleteMetaData()</tspan><tspan x="4483" dy="14.6"># beforeDeleteMetaData()</tspan><tspan x="4483" dy="14.6"># handleAutoRating()</tspan><tspan x="4483" dy="14.6"># hasAutoRating()</tspan><tspan x="4483" dy="14.6">- appendCopyInfoToTranslations()</tspan><tspan x="4483" dy="14.6">- getCallbackForTitlesPerLanguage</tspan><tspan x="4483" dy="14.6">Transformation()</tspan><tspan x="4483" dy="14.6">- appendNumberOfCopiesToTitle()</tspan><tspan x="4483" dy="14.6">- isTitleUnique()</tspan><tspan x="4483" dy="14.6">- buildTitleWithoutCopySuffix()</tspan></text></g>

<g id="n_objuser" class="n"><rect x="3627" y="3572" width="201" height="764"/><path d="M3627,3598H3828M3627,3927H3828"/><text class="ti" x="3727" y="3589">ilObjUser</text><text x="3633" y="3612"><tspan x="3633" dy="0">+ $login</tspan><tspan x="3633" dy="14.6">+ $gender</tspan><tspan x="3633" dy="14.6">+ $utitle</tspan><tspan x="3633" dy="14.6">+ $firstname</tspan><tspan x="3633" dy="14.6">+ $lastname</tspan><tspan x="3633" dy="14.6">+ $fullname</tspan><tspan x="3633" dy="14.6">+ $department</tspan><tspan x="3633" dy="14.6">+ $street</tspan><tspan x="3633" dy="14.6">+ $city</tspan><tspan x="3633" dy="14.6">+ $country</tspan><tspan x="3633" dy="14.6">and 12 more...</tspan><tspan x="3633" dy="14.6"># $time_limit_message</tspan><tspan x="3633" dy="14.6"># $last_login</tspan><tspan x="3633" dy="14.6"># $passwd</tspan><tspan x="3633" dy="14.6"># $password_encoding_type</tspan><tspan x="3633" dy="14.6"># $password_salt</tspan><tspan x="3633" dy="14.6"># $birthday</tspan><tspan x="3633" dy="14.6"># $second_email</tspan><tspan x="3633" dy="14.6"># $inactivation_date</tspan><tspan x="3633" dy="14.6"># $org_units</tspan><tspan x="3633" dy="14.6"># $last_profile_prompt</tspan><tspan x="3633" dy="14.6"># $avatar_rid</tspan></text><text x="3633" y="3941"><tspan x="3633" dy="0">+ __construct()</tspan><tspan x="3633" dy="14.6">+ read()</tspan><tspan x="3633" dy="14.6">+ getPasswordEncodingType()</tspan><tspan x="3633" dy="14.6">+ setPasswordEncodingType()</tspan><tspan x="3633" dy="14.6">+ getPasswordSalt()</tspan><tspan x="3633" dy="14.6">+ setPasswordSalt()</tspan><tspan x="3633" dy="14.6">+ assignData()</tspan><tspan x="3633" dy="14.6">+ saveAsNew()</tspan><tspan x="3633" dy="14.6">+ update()</tspan><tspan x="3633" dy="14.6">+ writeAccepted()</tspan><tspan x="3633" dy="14.6">and 169 more...</tspan><tspan x="3633" dy="14.6">+ _lookupFullname()</tspan><tspan x="3633" dy="14.6">+ _lookupEmail()</tspan><tspan x="3633" dy="14.6">+ _lookupGender()</tspan><tspan x="3633" dy="14.6">+ _lookupClientIP()</tspan><tspan x="3633" dy="14.6">+ _lookupName()</tspan><tspan x="3633" dy="14.6">+ _lookupFields()</tspan><tspan x="3633" dy="14.6">+ _lookupLogin()</tspan><tspan x="3633" dy="14.6">+ _lookupExternalAccount()</tspan><tspan x="3633" dy="14.6">+ _lookupId()</tspan><tspan x="3633" dy="14.6">+ _lookupLastLogin()</tspan><tspan x="3633" dy="14.6">and 62 more...</tspan><tspan x="3633" dy="14.6"># buildTextFromArray()</tspan><tspan x="3633" dy="14.6"># readMultiTextFields()</tspan><tspan x="3633" dy="14.6"># deleteMultiTextFields()</tspan><tspan x="3633" dy="14.6">- _lookup()</tspan><tspan x="3633" dy="14.6">- getLoginFromAuth()</tspan></text></g>

<g id="n_wsaccess" class="n"><rect x="3620" y="4401" width="216" height="324"/><path d="M3620,4427H3836M3620,4451H3836"/><text class="ti" x="3728" y="4418">ilWorkspaceAccessHandler</text><text x="3626" y="4465"><tspan x="3626" dy="0">+ __construct()</tspan><tspan x="3626" dy="14.6">+ getTree()</tspan><tspan x="3626" dy="14.6">+ checkAccess()</tspan><tspan x="3626" dy="14.6">+ checkAccessOfUser()</tspan><tspan x="3626" dy="14.6">+ setPermissions()</tspan><tspan x="3626" dy="14.6">+ addPermission()</tspan><tspan x="3626" dy="14.6">+ removePermission()</tspan><tspan x="3626" dy="14.6">+ getPermissions()</tspan><tspan x="3626" dy="14.6">+ hasRegisteredPermission()</tspan><tspan x="3626" dy="14.6">+ hasGlobalPermission()</tspan><tspan x="3626" dy="14.6">and 6 more...</tspan><tspan x="3626" dy="14.6">+ _getPermissions()</tspan><tspan x="3626" dy="14.6">+ getPossibleSharedTargets()</tspan><tspan x="3626" dy="14.6">+ getSharedNodePassword()</tspan><tspan x="3626" dy="14.6">+ keepSharedSessionPassword()</tspan><tspan x="3626" dy="14.6">+ getSharedSessionPassword()</tspan><tspan x="3626" dy="14.6">+ getGotoLink()</tspan><tspan x="3626" dy="14.6">+ getObjectDataFromNode()</tspan></text></g>

<g id="n_comprepo" class="n"><rect x="5265" y="507" width="231" height="251"/><path d="M5265,533H5496M5265,557H5496"/><text class="ti" x="5380" y="524">ilComponentRepository</text><text x="5271" y="571"><tspan x="5271" dy="0">+ hasComponent()</tspan><tspan x="5271" dy="14.6">+ hasComponentId()</tspan><tspan x="5271" dy="14.6">+ getComponents()</tspan><tspan x="5271" dy="14.6">+ getComponentById()</tspan><tspan x="5271" dy="14.6">+ getComponentByTypeAndName()</tspan><tspan x="5271" dy="14.6">+ hasPluginSlotId()</tspan><tspan x="5271" dy="14.6">+ getPluginSlots()</tspan><tspan x="5271" dy="14.6">+ getPluginSlotById()</tspan><tspan x="5271" dy="14.6">+ hasPluginId()</tspan><tspan x="5271" dy="14.6">+ getPlugins()</tspan><tspan x="5271" dy="14.6">+ getPluginById()</tspan><tspan x="5271" dy="14.6">+ getPluginByName()</tspan><tspan x="5271" dy="14.6">+ hasActivatedPlugin()</tspan></text></g>

<g id="n_compfactory" class="n"><rect x="5521" y="587" width="172" height="89"/><path d="M5521,613H5693M5521,637H5693"/><text class="ti" x="5607" y="604">ilComponentFactory</text><text x="5527" y="651"><tspan x="5527" dy="0">+ getPlugin()</tspan><tspan x="5527" dy="14.6">+ getActivePluginsInSlot()</tspan></text></g>

<g id="n_rbacreview" class="n"><rect x="6003" y="410" width="218" height="442"/><path d="M6003,436H6221M6003,460H6221"/><text class="ti" x="6112" y="427">ilRbacReview</text><text x="6009" y="474"><tspan x="6009" dy="0">+ __construct()</tspan><tspan x="6009" dy="14.6">+ roleExists()</tspan><tspan x="6009" dy="14.6">+ getParentRoleIds()</tspan><tspan x="6009" dy="14.6">+ getRoleListByObject()</tspan><tspan x="6009" dy="14.6">+ getAssignableRoles()</tspan><tspan x="6009" dy="14.6">+ getAssignableRolesInSubtree()</tspan><tspan x="6009" dy="14.6">+ getAssignableChildRoles()</tspan><tspan x="6009" dy="14.6">+ getNumberOfAssignedUsers()</tspan><tspan x="6009" dy="14.6">+ assignedUsers()</tspan><tspan x="6009" dy="14.6">+ isAssigned()</tspan><tspan x="6009" dy="14.6">and 43 more...</tspan><tspan x="6009" dy="14.6">+ _getOperationIdsByName()</tspan><tspan x="6009" dy="14.6">+ _getOperationIdByName()</tspan><tspan x="6009" dy="14.6">+ lookupCreateOperationIds()</tspan><tspan x="6009" dy="14.6">+ _getOperationList()</tspan><tspan x="6009" dy="14.6">+ _groupOperationsByClass()</tspan><tspan x="6009" dy="14.6">+ _getCustomRBACOperationId()</tspan><tspan x="6009" dy="14.6">+ _isRBACOperation()</tspan><tspan x="6009" dy="14.6"># __getParentRoles()</tspan><tspan x="6009" dy="14.6"># __setTemplateFilter()</tspan><tspan x="6009" dy="14.6"># __setRoleType()</tspan><tspan x="6009" dy="14.6"># __setProtectedStatus()</tspan><tspan x="6009" dy="14.6">- getAssignableRolesGenerator()</tspan><tspan x="6009" dy="14.6">- setRoleTypeAndProtection()</tspan><tspan x="6009" dy="14.6">- buildRoleType()</tspan><tspan x="6009" dy="14.6">- buildProtectionByStringValue()</tspan></text></g>

<g id="n_timezone" class="n"><rect x="6499" y="507" width="191" height="251"/><path d="M6499,533H6690M6499,557H6690"/><text class="ti" x="6594" y="524">ilTimeZone</text><text x="6505" y="571"><tspan x="6505" dy="0">+ __sleep()</tspan><tspan x="6505" dy="14.6">+ __wakeup()</tspan><tspan x="6505" dy="14.6">+ getIdentifier()</tspan><tspan x="6505" dy="14.6">+ switchTZ()</tspan><tspan x="6505" dy="14.6">+ restoreTZ()</tspan><tspan x="6505" dy="14.6">+ validateTZ()</tspan><tspan x="6505" dy="14.6">+ _getInstance()</tspan><tspan x="6505" dy="14.6">+ _setDefaultTimeZone()</tspan><tspan x="6505" dy="14.6">+ _restoreDefaultTimeZone()</tspan><tspan x="6505" dy="14.6">+ _getDefaultTimeZone()</tspan><tspan x="6505" dy="14.6">+ initDefaultTimeZone()</tspan><tspan x="6505" dy="14.6"># switchTimeZone()</tspan><tspan x="6505" dy="14.6">- __construct()</tspan></text></g>

<g id="n_cron" class="n"><rect x="6181" y="880" width="210" height="190"/><path d="M6181,920H6391M6181,944H6391"/><text class="ti" x="6286" y="895">ilCronDeleteInactiveUser</text><text class="ti" x="6286" y="909">ReminderMail</text><text x="6187" y="958"><tspan x="6187" dy="0">+ __construct()</tspan><tspan x="6187" dy="14.6">+ removeEntriesFromTableIf</tspan><tspan x="6187" dy="14.6">LastLoginIsNewer()</tspan><tspan x="6187" dy="14.6">+ sendReminderMailIfNeeded()</tspan><tspan x="6187" dy="14.6">+ flushDataTable()</tspan><tspan x="6187" dy="14.6">+ removeSingleUserFromTable()</tspan><tspan x="6187" dy="14.6">- persistMailSent()</tspan><tspan x="6187" dy="14.6">- sendReminder()</tspan></text></g>

<g id="n_appevent" class="n"><rect x="5296" y="1215" width="132" height="104"/><path d="M5296,1241H5428M5296,1265H5428"/><text class="ti" x="5362" y="1232">ilAppEventHandler</text><text x="5302" y="1279"><tspan x="5302" dy="0">+ __construct()</tspan><tspan x="5302" dy="14.6">+ raise()</tspan><tspan x="5302" dy="14.6"># initListeners()</tspan></text></g>

<g id="n_rbacadmin" class="n"><rect x="5952" y="1141" width="188" height="253"/><path d="M5952,1167H6140M5952,1191H6140"/><text class="ti" x="6046" y="1158">ilRbacAdmin</text><text x="5958" y="1205"><tspan x="5958" dy="0">+ __construct()</tspan><tspan x="5958" dy="14.6">+ setBlockedStatus()</tspan><tspan x="5958" dy="14.6">+ removeUser()</tspan><tspan x="5958" dy="14.6">+ deleteRole()</tspan><tspan x="5958" dy="14.6">+ deleteTemplate()</tspan><tspan x="5958" dy="14.6">+ deleteLocalRole()</tspan><tspan x="5958" dy="14.6">+ assignUserLimited()</tspan><tspan x="5958" dy="14.6">+ assignUser()</tspan><tspan x="5958" dy="14.6">+ deassignUser()</tspan><tspan x="5958" dy="14.6">+ grantPermission()</tspan><tspan x="5958" dy="14.6">and 18 more...</tspan><tspan x="5958" dy="14.6"># applyMovedObjectDidactic</tspan><tspan x="5958" dy="14.6">Templates()</tspan></text></g>

<g id="n_ildatetime" class="n"><rect x="7152" y="1112" width="169" height="309"/><path d="M7152,1138H7321M7152,1162H7321"/><text class="ti" x="7236" y="1129">ilDateTime</text><text x="7158" y="1176"><tspan x="7158" dy="0">+ __construct()</tspan><tspan x="7158" dy="14.6">+ __clone()</tspan><tspan x="7158" dy="14.6">+ __sleep()</tspan><tspan x="7158" dy="14.6">+ __wakeup()</tspan><tspan x="7158" dy="14.6">+ isNull()</tspan><tspan x="7158" dy="14.6">+ switchTimeZone()</tspan><tspan x="7158" dy="14.6">+ getTimeZoneIdentifier()</tspan><tspan x="7158" dy="14.6">+ increment()</tspan><tspan x="7158" dy="14.6">+ getUnixTime()</tspan><tspan x="7158" dy="14.6">+ setDate()</tspan><tspan x="7158" dy="14.6">+ get()</tspan><tspan x="7158" dy="14.6">+ __toString()</tspan><tspan x="7158" dy="14.6">+ _before()</tspan><tspan x="7158" dy="14.6">+ _equals()</tspan><tspan x="7158" dy="14.6">+ _after()</tspan><tspan x="7158" dy="14.6">+ _within()</tspan><tspan x="7158" dy="14.6"># parsePartsToDate()</tspan></text></g>

<g id="n_notification" class="n"><rect x="6771" y="1463" width="132" height="161"/><path d="M6771,1489H6903M6771,1513H6903"/><text class="ti" x="6837" y="1480">ilNotification</text><text x="6777" y="1527"><tspan x="6777" dy="0">+ __construct()</tspan><tspan x="6777" dy="14.6">+ has()</tspan><tspan x="6777" dy="14.6">+ add()</tspan><tspan x="6777" dy="14.6">+ delete()</tspan><tspan x="6777" dy="14.6">+ clear()</tspan><tspan x="6777" dy="14.6">+ deleteForObject()</tspan><tspan x="6777" dy="14.6">+ deleteForUser()</tspan></text></g>

<g id="n_dbinterface" class="n"><rect x="5135" y="15" width="235" height="249"/><path d="M5135,41H5370M5135,65H5370"/><text class="ti" x="5252" y="32">ilDBInterface</text><text x="5141" y="79"><tspan x="5141" dy="0">+ doesCollationSupportMB4Strings()</tspan><tspan x="5141" dy="14.6">+ sanitizeMB4StringIfNotSupported()</tspan><tspan x="5141" dy="14.6">+ initFromIniFile()</tspan><tspan x="5141" dy="14.6">+ connect()</tspan><tspan x="5141" dy="14.6">+ nextId()</tspan><tspan x="5141" dy="14.6">+ createTable()</tspan><tspan x="5141" dy="14.6">+ addPrimaryKey()</tspan><tspan x="5141" dy="14.6">+ createSequence()</tspan><tspan x="5141" dy="14.6">+ getSequenceName()</tspan><tspan x="5141" dy="14.6">+ tableExists()</tspan><tspan x="5141" dy="14.6">and 78 more...</tspan><tspan x="5141" dy="14.6">+ getReservedWords()</tspan><tspan x="5141" dy="14.6">+ isReservedWord()</tspan></text></g>

<g id="n_logger" class="n"><rect x="6957" y="27" width="111" height="221"/><path d="M6957,53H7068M6957,77H7068"/><text class="ti" x="7012" y="44">ilLogger</text><text x="6963" y="91"><tspan x="6963" dy="0">+ __construct()</tspan><tspan x="6963" dy="14.6">+ isHandling()</tspan><tspan x="6963" dy="14.6">+ log()</tspan><tspan x="6963" dy="14.6">+ dump()</tspan><tspan x="6963" dy="14.6">+ debug()</tspan><tspan x="6963" dy="14.6">+ info()</tspan><tspan x="6963" dy="14.6">+ notice()</tspan><tspan x="6963" dy="14.6">+ warning()</tspan><tspan x="6963" dy="14.6">+ error()</tspan><tspan x="6963" dy="14.6">+ critical()</tspan><tspan x="6963" dy="14.6">and 7 more...</tspan></text></g>

<g id="n_ilobject2" class="n"><rect x="5662" y="3800" width="149" height="307"/><path d="M5662,3826H5811M5662,3850H5811"/><text class="ti" x="5736" y="3817">ilObject2</text><text x="5668" y="3864"><tspan x="5668" dy="0">+ __construct()</tspan><tspan x="5668" dy="14.6">+ read()</tspan><tspan x="5668" dy="14.6">+ create()</tspan><tspan x="5668" dy="14.6">+ update()</tspan><tspan x="5668" dy="14.6">+ delete()</tspan><tspan x="5668" dy="14.6">+ cloneMetaData()</tspan><tspan x="5668" dy="14.6">+ cloneObject()</tspan><tspan x="5668" dy="14.6"># initType()</tspan><tspan x="5668" dy="14.6"># doRead()</tspan><tspan x="5668" dy="14.6"># doCreate()</tspan><tspan x="5668" dy="14.6"># beforeCreate()</tspan><tspan x="5668" dy="14.6"># doUpdate()</tspan><tspan x="5668" dy="14.6"># beforeUpdate()</tspan><tspan x="5668" dy="14.6"># doDelete()</tspan><tspan x="5668" dy="14.6"># beforeDelete()</tspan><tspan x="5668" dy="14.6"># doCloneObject()</tspan><tspan x="5668" dy="14.6"># beforeCloneObject()</tspan></text></g>

<g id="n_component" class="n"><rect x="6341" y="3918" width="197" height="74"/><path d="M6341,3944H6538M6341,3968H6538"/><text class="ti" x="6439" y="3935">ILIAS\Component\Component</text><text x="6347" y="3982">+ init()</text></g>

<g id="n_objdc" class="n"><rect x="5936" y="4408" width="179" height="309"/><path d="M5936,4434H6115M5936,4458H6115"/><text class="ti" x="6025" y="4425">ilObjDataCollection</text><text x="5942" y="4472"><tspan x="5942" dy="0">+ __construct()</tspan><tspan x="5942" dy="14.6">+ sendRecordNotification()</tspan><tspan x="5942" dy="14.6">+ cloneStructure()</tspan><tspan x="5942" dy="14.6">+ setOnline()</tspan><tspan x="5942" dy="14.6">+ getOnline()</tspan><tspan x="5942" dy="14.6">+ setRating()</tspan><tspan x="5942" dy="14.6">+ getRating()</tspan><tspan x="5942" dy="14.6">+ setPublicNotes()</tspan><tspan x="5942" dy="14.6">+ getPublicNotes()</tspan><tspan x="5942" dy="14.6">+ setApproval()</tspan><tspan x="5942" dy="14.6">and 7 more...</tspan><tspan x="5942" dy="14.6"># initType()</tspan><tspan x="5942" dy="14.6"># doRead()</tspan><tspan x="5942" dy="14.6"># doCreate()</tspan><tspan x="5942" dy="14.6"># doDelete()</tspan><tspan x="5942" dy="14.6"># doUpdate()</tspan><tspan x="5942" dy="14.6"># doCloneObject()</tspan></text></g>

<g id="n_container" class="n"><rect x="6380" y="4526" width="115" height="74"/><path d="M6380,4552H6495M6380,4576H6495"/><text class="ti" x="6437" y="4543">ILIAS\Container</text><text x="6386" y="4590">+ init()</text></g>

<g id="n_dcltable" class="n"><rect x="5375" y="4812" width="194" height="340"/><path d="M5375,4838H5569M5375,4875H5569"/><text class="ti" x="5472" y="4829">ilDclTable</text><text x="5381" y="4852"><tspan x="5381" dy="0"># $edit_perm</tspan><tspan x="5381" dy="14.6"># $show_invalid</tspan></text><text x="5381" y="4889"><tspan x="5381" dy="0">+ __construct()</tspan><tspan x="5381" dy="14.6">+ doRead()</tspan><tspan x="5381" dy="14.6">+ doDelete()</tspan><tspan x="5381" dy="14.6">+ doCreate()</tspan><tspan x="5381" dy="14.6">+ doUpdate()</tspan><tspan x="5381" dy="14.6">+ setId()</tspan><tspan x="5381" dy="14.6">+ getId()</tspan><tspan x="5381" dy="14.6">+ setObjId()</tspan><tspan x="5381" dy="14.6">+ getObjId()</tspan><tspan x="5381" dy="14.6">+ setTitle()</tspan><tspan x="5381" dy="14.6">and 74 more...</tspan><tspan x="5381" dy="14.6">+ _tableExists()</tspan><tspan x="5381" dy="14.6">+ _getTableIdByTitle()</tspan><tspan x="5381" dy="14.6">+ _hasFieldByTitle()</tspan><tspan x="5381" dy="14.6"># loadObj()</tspan><tspan x="5381" dy="14.6"># loadCustomFields()</tspan><tspan x="5381" dy="14.6"># doesRecordBelongToUser()</tspan><tspan x="5381" dy="14.6"># sortByOrder()</tspan></text></g>

<g id="n_notes" class="n"><rect x="6349" y="4922" width="143" height="120"/><path d="M6349,4948H6492M6349,4972H6492"/><text class="ti" x="6420" y="4939">ILIAS\Notes\Service</text><text x="6355" y="4986"><tspan x="6355" dy="0">+ __construct()</tspan><tspan x="6355" dy="14.6">+ data()</tspan><tspan x="6355" dy="14.6">+ domain()</tspan><tspan x="6355" dy="14.6">+ gui()</tspan></text></g>

<g id="n_dclrecord" class="n"><rect x="5654" y="5239" width="198" height="309"/><path d="M5654,5265H5852M5654,5289H5852"/><text class="ti" x="5753" y="5256">ilDclBaseRecordModel</text><text x="5660" y="5303"><tspan x="5660" dy="0">+ __construct()</tspan><tspan x="5660" dy="14.6">+ doUpdate()</tspan><tspan x="5660" dy="14.6">+ doRead()</tspan><tspan x="5660" dy="14.6">+ doCreate()</tspan><tspan x="5660" dy="14.6">+ deleteField()</tspan><tspan x="5660" dy="14.6">+ setId()</tspan><tspan x="5660" dy="14.6">+ getId()</tspan><tspan x="5660" dy="14.6">+ setTableId()</tspan><tspan x="5660" dy="14.6">+ getTableId()</tspan><tspan x="5660" dy="14.6">+ setCreateDate()</tspan><tspan x="5660" dy="14.6">and 31 more...</tspan><tspan x="5660" dy="14.6"># setStandardFieldFromForm()</tspan><tspan x="5660" dy="14.6"># setStandardField()</tspan><tspan x="5660" dy="14.6"># fillStandardFieldFormInput()</tspan><tspan x="5660" dy="14.6"># getStandardField()</tspan><tspan x="5660" dy="14.6">- loadRecordFields()</tspan><tspan x="5660" dy="14.6">- loadTable()</tspan></text></g>

<g id="n_mailnotif" class="n"><rect x="1341" y="4790" width="187" height="384"/><path d="M1341,4816H1528M1341,4840H1528"/><text class="ti" x="1434" y="4807">ilMailNotification</text><text x="1347" y="4854"><tspan x="1347" dy="0">+ __construct()</tspan><tspan x="1347" dy="14.6">+ setType()</tspan><tspan x="1347" dy="14.6">+ getType()</tspan><tspan x="1347" dy="14.6">+ setSender()</tspan><tspan x="1347" dy="14.6">+ getSender()</tspan><tspan x="1347" dy="14.6">+ setRecipients()</tspan><tspan x="1347" dy="14.6">+ getRecipients()</tspan><tspan x="1347" dy="14.6">+ setAttachments()</tspan><tspan x="1347" dy="14.6">+ getAttachments()</tspan><tspan x="1347" dy="14.6">+ setLangModules()</tspan><tspan x="1347" dy="14.6">and 10 more...</tspan><tspan x="1347" dy="14.6"># setSubject()</tspan><tspan x="1347" dy="14.6"># getSubject()</tspan><tspan x="1347" dy="14.6"># setBody()</tspan><tspan x="1347" dy="14.6"># appendBody()</tspan><tspan x="1347" dy="14.6"># getBody()</tspan><tspan x="1347" dy="14.6"># initLanguage()</tspan><tspan x="1347" dy="14.6"># initLanguageByIso2Code()</tspan><tspan x="1347" dy="14.6"># setLanguage()</tspan><tspan x="1347" dy="14.6"># getLanguage()</tspan><tspan x="1347" dy="14.6"># getLanguageText()</tspan><tspan x="1347" dy="14.6">and 6 more...</tspan></text></g>

<g id="n_dcmailnotif" class="n f"><rect x="419" y="5613" width="204" height="178"/><path d="M419,5639H623M419,5663H623"/><text class="ti" x="521" y="5630">ilDataCollectionMailNotification</text><text x="425" y="5677"><tspan x="425" dy="0">+ addRecipient()</tspan><tspan x="425" dy="14.6">+ getActor()</tspan><tspan x="425" dy="14.6">+ setActor()</tspan><tspan x="425" dy="14.6">+ getRecord()</tspan><tspan x="425" dy="14.6">+ setRecord()</tspan><tspan x="425" dy="14.6">+ send()</tspan><tspan x="425" dy="14.6"># appendBody()</tspan><tspan x="425" dy="14.6">- getAction()</tspan></text></g>
</svg>
